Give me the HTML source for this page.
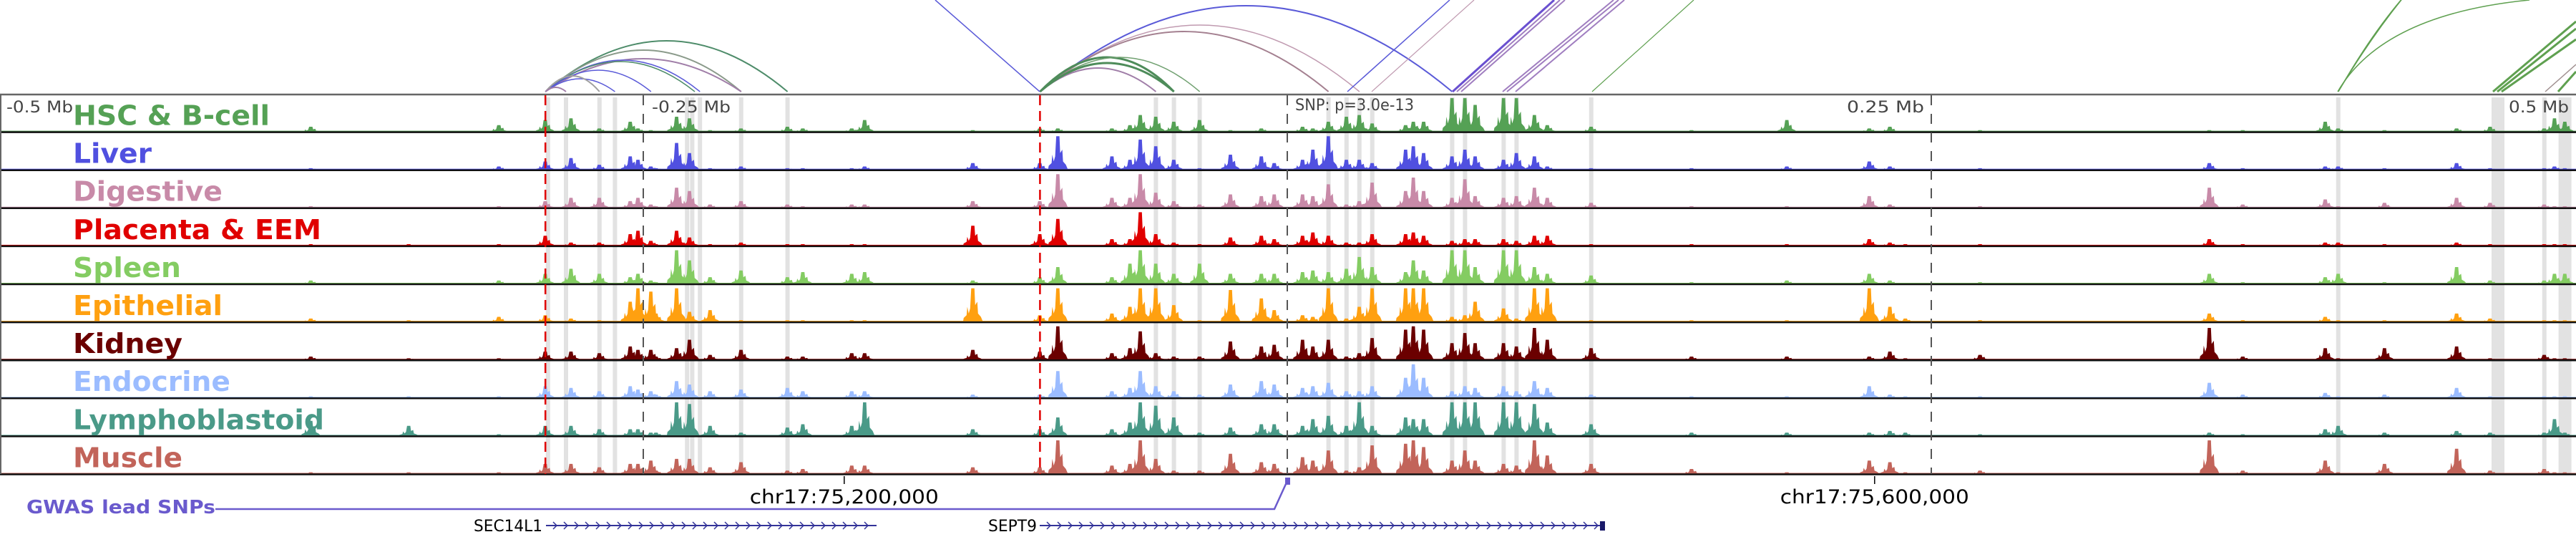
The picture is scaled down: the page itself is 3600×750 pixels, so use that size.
<!DOCTYPE html>
<html><head><meta charset="utf-8"><style>
html,body{margin:0;padding:0;background:#fff;}
svg{display:block;}
text{font-family:"DejaVu Sans","Liberation Sans",sans-serif;}
</style></head><body>
<svg id="chart" width="3600" height="750" viewBox="0 0 3600 750" xmlns="http://www.w3.org/2000/svg">
<g id="highlights"></g>
<g id="arcs"></g>
<g id="tracks"></g>
<g id="frame"></g>
<g id="labels"></g>
<g id="bottom"></g>
</svg>
<script>
// ---- data ----
const peakKb = [-379,-341,-306,-288,-278,-267,-255,-252,-247,-245,-237,-232,-224,-212,-194,-188,-169,-164,-122,-96,-89,-68,-61,-57,-51,-44,-34,-22,-10,-5,6,10,16,23,28,33,46,49,53,64,69,73,84,89,96,101,118,157,194,226,234,240,269,358,371,403,408,426,454,467,488,492,496];
const trackNames = ["HSC & B-cell","Liver","Digestive","Placenta & EEM","Spleen","Epithelial","Kidney","Endocrine","Lymphoblastoid","Muscle"];
const trackColors = ["#55a155","#5050e0","#c88aa8","#e00000","#84cc62","#ffa010","#6b0000","#9bbcff","#4a9a88","#c2645a"];
const hsc = [.15,0,.2,.35,.4,.1,.3,.1,.05,0,.45,.4,.05,.1,.15,.1,.1,.35,.05,.1,.1,.1,.2,.5,.45,.3,.35,.05,.1,0,.15,.1,.3,.45,.5,.25,.2,.3,.3,1,1,.8,1,1,.5,.2,.15,.05,.35,.1,.15,0,.05,.05,.05,.3,.1,.05,.1,.15,.1,.4,.3];
const liver = [.05,0,.1,.25,.35,.15,.4,.3,.1,.05,.8,.5,.05,.1,.05,.05,.05,.1,.2,.2,1,.4,.3,.9,.7,.3,.05,.45,.4,.2,.3,.6,1,.3,.3,.2,.6,.7,.5,.4,.6,.4,.3,.5,.4,.1,.05,.05,.1,.25,.1,0,.05,.2,.05,.1,.1,.05,.2,.05,.05,.1,.05];
const digestive = [.05,0,.05,.2,.3,.3,.2,.3,.1,.05,.6,.5,.1,.2,.1,.05,.1,.1,.2,.2,1,.3,.3,1,.45,.2,.1,.4,.35,.4,.4,.35,.7,.1,.2,.75,.5,.9,.5,.3,.85,.35,.3,.35,.6,.3,.15,.05,.05,.35,.1,0,.05,.6,.1,.25,.05,.15,.3,.15,.1,.05,.05];
const placenta = [.05,.05,.05,.3,.1,.1,.35,.45,.15,.05,.45,.25,.05,.1,.05,.05,.05,.05,.6,.35,.8,.2,.2,1,.35,.1,.05,.25,.3,.2,.3,.4,.3,.1,.1,.35,.35,.4,.3,.15,.2,.2,.2,.15,.3,.3,.05,.05,.05,.2,.1,.05,.05,.2,.05,.1,.1,.05,.1,.05,.05,.05,.05];
const spleen = [.1,0,.1,.3,.45,.3,.2,.3,.1,.05,1,.7,.2,.4,.2,.35,.3,.35,.1,.2,.5,.2,.6,1,.6,.3,.6,.3,.3,.3,.35,.4,.35,.45,.8,.5,.35,.7,.4,1,1,.5,1,1,.5,.3,.25,.05,.1,.3,.1,0,.05,.3,.05,.2,.3,.05,.5,.1,.1,.3,.3];
const epithelial = [.1,.05,.15,.2,.1,.05,.6,1,.9,.25,1,.3,.35,.05,.05,.05,.05,.05,1,.2,1,.25,.45,1,1,.5,.05,.95,.7,.35,.2,.15,1,.1,.45,1,1,1,1,.15,.2,.6,.4,.1,1,1,.05,.05,.05,1,.45,.1,.05,.25,.05,.15,.05,.05,.25,.1,.05,.05,.05];
const kidney = [.1,.05,.05,.25,.25,.2,.4,.3,.3,.1,.35,.6,.15,.3,.1,.1,.2,.2,.3,.25,1,.2,.35,.85,.2,.1,.1,.55,.4,.45,.6,.4,.6,.1,.2,.65,.9,1,.9,.5,.8,.5,.5,.4,.95,.6,.35,.1,.1,.1,.25,.05,.15,.95,.1,.35,.05,.35,.4,.05,.15,.05,.05];
const endocrine = [.05,.05,.05,.35,.3,.2,.35,.25,.2,.1,.5,.4,.2,.25,.3,.2,.2,.2,.1,.1,.8,.2,.3,.8,.35,.2,.1,.4,.5,.4,.3,.35,.45,.2,.2,.35,.6,1,.6,.2,.35,.3,.35,.2,.5,.3,.1,.05,.05,.35,.1,.05,.05,.45,.1,.15,.05,.1,.3,.05,.05,.05,.05];
const lympho = [.45,.3,.05,.3,.3,.2,.2,.2,.1,.1,1,.95,.3,.1,.25,.35,.3,1,.2,.2,.55,.2,.4,1,.9,.55,.1,.25,.35,.35,.3,.5,.6,.3,1,.3,.55,.5,.5,1,1,1,1,1,.95,.4,.35,.1,.1,.1,.15,.1,.05,.1,.05,.2,.3,.1,.15,.1,.1,.5,.1];
const muscle = [.05,.05,.05,.3,.3,.2,.3,.3,.4,.1,.45,.45,.2,.35,.1,.15,.25,.25,.2,.2,1,.25,.3,1,.45,.1,.1,.6,.35,.3,.5,.4,.7,.1,.2,.85,.9,1,.8,.4,.7,.4,.3,.25,1,.55,.3,.15,.05,.4,.35,.05,.1,1,.1,.4,.05,.3,.75,.1,.15,.05,.05];
const trackValues = [hsc,liver,digestive,placenta,spleen,epithelial,kidney,endocrine,lympho,muscle];
const labelWidths = [275,110,209,347,151,209,153,220,351,153];
const highlightKb = [-287,-280,-267,-261,-233,-231,-228,-212,-194,-51,-44,-34,16,23,28,33,64,69,84,89,118,408,470,488,496];
const mbLabels = ["-0.5 Mb","-0.25 Mb","0.25 Mb","0.5 Mb"];
const chrTicksKb = [-172,228];
const chrTickLabels = ["chr17:75,200,000","chr17:75,600,000"];
const arcStart = [-288,-288,-288,-288,-288,-288,-288,-288,-288,-96,-96,-96,-96,-96,-96,-96,408,408];
const arcEnd = [-194,-212,-212,-228,-230,-247,-261,-267,-280,64,28,16,-44,-34,-51,-44,600,560];
const arcPeak = [57,70,82,84,86,98,110,106,122,8,35,44,80,80,95,88,-160,-110];
const arcColor = ["#4e8c6a","#8a9a8a","#a07ea8","#5a5ad8","#4e8c6a","#5a5ad8","#5a5ad8","#a0a0a0","#a07ea8","#5a5ad8","#c09ab0","#a48090","#4e8c5a","#70a070","#a07ea8","#4e8c5a","#5fa050","#5fa050"];
const arcWidth = [2,2,2,1.5,1.5,1.5,1.5,2,2,2,1.5,2,3,1.5,2,3,1.5,1.5];

// ---- scales ----
const W=3600, CX=1799, PXKB=3.6;
const xOf = kb => CX + kb*PXKB;
const TOP=133, TH=53.1, MAXH=47;
const yBase = i => TOP + TH*(i+1) - 2;
const NS="http://www.w3.org/2000/svg";
function mk(tag, parent, attrs){const e=document.createElementNS(NS,tag);for(const k in attrs)e.setAttribute(k,attrs[k]);parent.appendChild(e);return e;}

const hl=document.getElementById('highlights');
highlightKb.forEach(kb=>{
  const wide=(kb===470||kb===496);
  const r=mk('rect',hl,{x:xOf(kb)-(wide?9:3),y:TOP+3,width:wide?18:6,height:TH*10-4,fill:'#e2e2e2'});
  
  
});

const tg=document.getElementById('tracks');
trackValues.forEach((vals,i)=>{
  const g=mk('g',tg,{});
  
  
  const b=yBase(i);
  const base=mk('rect',g,{x:0,y:b-1.5,width:W,height:1.5,fill:trackColors[i]});
  
  
  vals.forEach((v,j)=>{
    if(v<=0) return;
    const x=xOf(peakKb[j]), h=v*MAXH;
    const d=`M${x-14},${b} L${x-13},${b-0.12*h} L${x-9},${b-0.2*h} L${x-8},${b-0.45*h} L${x-6},${b-0.25*h} L${x-4},${b-0.4*h} L${x-2.5},${b-h} L${x+2},${b-h} L${x+3},${b-0.5*h} L${x+6},${b-0.6*h} L${x+7},${b-0.25*h} L${x+11},${b-0.15*h} L${x+14},${b} Z`;
    const p=mk('path',g,{d:d,fill:trackColors[i]});
    
    
  });
});

const fr=document.getElementById('frame');
mk('line',fr,{x1:0,y1:TOP-1,x2:W,y2:TOP-1,stroke:'#666',"stroke-width":2.5});
for(let i=0;i<10;i++){mk('line',fr,{x1:0,y1:yBase(i)+0.5,x2:W,y2:yBase(i)+0.5,stroke:'#111',"stroke-width":2.5});}
mk('line',fr,{x1:1,y1:TOP,x2:1,y2:yBase(9),stroke:'#666',"stroke-width":2});
[-288,-96].forEach(kb=>{const l=mk('line',fr,{x1:xOf(kb),y1:TOP,x2:xOf(kb),y2:yBase(9),stroke:'#e00000',"stroke-width":2.5,"stroke-dasharray":"14,8"});
 });
[-250,0,250].forEach(kb=>{const l=mk('line',fr,{x1:xOf(kb),y1:TOP,x2:xOf(kb),y2:yBase(9),stroke:'#555',"stroke-width":2,"stroke-dasharray":"14,12"});
 });
const lb=document.getElementById('labels');
[[9,'start',93],[911,'start',110],[2689,'end',108],[3590,'end',84]].forEach((p,k)=>{
  const t=mk('text',lb,{x:p[0],y:157,"font-size":22,fill:'#444',"text-anchor":p[1],textLength:p[2],lengthAdjust:'spacingAndGlyphs'});
  t.textContent=mbLabels[k];
  
  
});
const snp=mk('text',lb,{x:1810,y:154,"font-size":22,fill:'#444',textLength:166,lengthAdjust:'spacingAndGlyphs'});
snp.textContent='SNP: p=3.0e-13';


trackNames.forEach((n,i)=>{
  const t=mk('text',lb,{x:102,y:174.5+TH*i,"font-size":38,"font-weight":'bold',fill:trackColors[i],textLength:labelWidths[i],lengthAdjust:'spacingAndGlyphs'});
  t.textContent=n;
  
  
});

const ag=document.getElementById('arcs');
const BY=128;
arcStart.forEach((s,k)=>{
  const x1=xOf(s), x2=xOf(arcEnd[k]), py=arcPeak[k];
  const cy=2*py-BY;
  const p=mk('path',ag,{d:`M${x1},${BY} Q${(x1+x2)/2},${cy} ${x2},${BY}`,fill:'none',stroke:arcColor[k],"stroke-width":arcWidth[k]});
  
  
});
[[1307,0,1453,128,'#5a5ad8',1.5],[1883,128,2026,0,'#5a5ad8',1.5],[1917,128,2060,0,'#c09ab0',1.2],
 [2030,128,2172,0,'#6a50d0',3],[2036,128,2180,0,'#a07ec0',2],[2042,128,2187,0,'#a07ec0',2],
 [2100,128,2255,0,'#a07ec0',2],[2106,128,2262,0,'#a07ec0',2],[2118,128,2270,0,'#a07ec0',2],
 [2225,128,2367,0,'#5fa050',1.2],[3484,128,3600,30,'#5fa050',3],[3490,128,3600,40,'#5fa050',3],[3496,128,3600,55,'#5fa050',3],
 [3557,128,3600,90,'#a09090',1.5],[3575,128,3600,100,'#5fa050',3]].forEach(a=>{
  const l=mk('line',ag,{x1:a[0],y1:a[1],x2:a[2],y2:a[3],stroke:a[4],"stroke-width":a[5]});
  
  
});
const ra=mk('path',ag,{d:'M3267,128 Q3330,20 3535,0',fill:'none',stroke:'#5fa050',"stroke-width":1.5});



const bt=document.getElementById('bottom');
chrTicksKb.forEach((kb,k)=>{
  const x=xOf(kb);
  mk('line',bt,{x1:x,y1:665,x2:x,y2:676,stroke:'#000',"stroke-width":1.5});
  const t=mk('text',bt,{x:x,y:703,"font-size":27,fill:'#000',"text-anchor":'middle',textLength:264,lengthAdjust:'spacingAndGlyphs'});
  t.textContent=chrTickLabels[k];
  
  
});
const gw=mk('text',bt,{x:37,y:717,"font-size":26,"font-weight":'bold',fill:'#6a5acd',textLength:264,lengthAdjust:'spacingAndGlyphs'});
gw.textContent='GWAS lead SNPs';


const gl=mk('polyline',bt,{points:'301,711 1781,711 1797,676',fill:'none',stroke:'#6a5acd',"stroke-width":2.5});


const sm=mk('rect',bt,{x:1796,y:667,width:7,height:10,fill:'#6a5acd'});


[['SEC14L1',763,1225,758,96],['SEPT9',1453,2238,1449,68]].forEach(gn=>{
  const g=mk('g',bt,{});
  
  
  const t=mk('text',g,{x:gn[3],y:742,"font-size":22,fill:'#000',"text-anchor":'end',textLength:gn[4],lengthAdjust:'spacingAndGlyphs'});
  t.textContent=gn[0];
  mk('line',g,{x1:gn[1],y1:734,x2:gn[2],y2:734,stroke:'#333399',"stroke-width":2});
  let d='';
  for(let x=gn[1]+10;x<gn[2]-6;x+=15){d+=`M${x},729 L${x+5},734 L${x},739 `;}
  mk('path',g,{d:d,fill:'none',stroke:'#333399',"stroke-width":1.5});
});
mk('rect',bt,{x:2236,y:728,width:7,height:13,fill:'#1a1a6a'});
</script>
</body></html>
